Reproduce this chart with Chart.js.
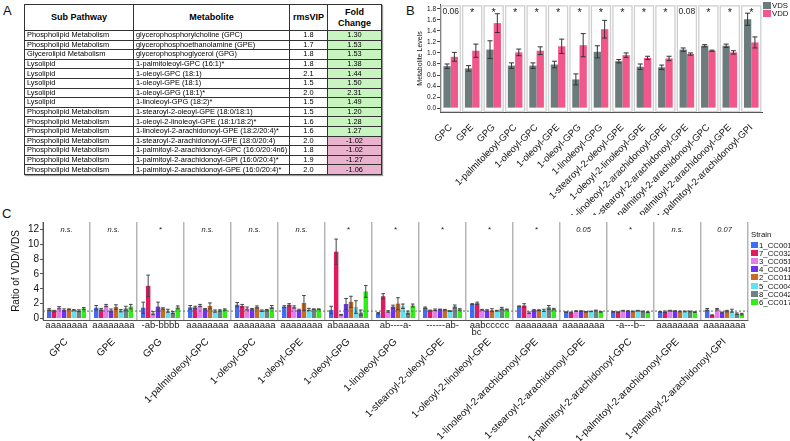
<!DOCTYPE html>
<html>
<head>
<meta charset="utf-8">
<script src="https://cdn.jsdelivr.net/npm/chart.js@4.4.1/dist/chart.umd.min.js"></script>
<style>
html, body { margin: 0; padding: 0; background: #fff; }
#page { position: relative; width: 790px; height: 441px; overflow: hidden; font-family: 'Liberation Sans', Arial, sans-serif; color: #111; }
.plabel { position: absolute; font-size: 13px; }
#tbl { position: absolute; left: 24px; top: 4px; width: 357px; border-collapse: collapse; table-layout: fixed; box-shadow: 1px 1px 1px #999; border: 1.5px solid #222; color: #000; }
#tbl th, #tbl td { border: 1px solid #333; padding: 0 2px; white-space: nowrap; overflow: hidden; }
#tbl th { height: 25px; font-size: 9px; font-weight: bold; text-align: center; line-height: 11px; }
#tbl td { height: 8.6px; font-size: 7.4px; line-height: 8px; }
#tbl td.num { text-align: center; }
#tbl span { display: inline-block; filter: grayscale(1); }
.leg { position: absolute; font-size: 7.8px; white-space: nowrap; line-height: 8px; }
.leg i { display: inline-block; vertical-align: top; margin-right: 1px; }
#cB { position: absolute; left: 400px; top: 0; }
#cC { position: absolute; left: 0; top: 215px; }
</style>
</head>
<body>
<div id="page">
  <div class="plabel" style="left:3px;top:3px">A</div>
  <div class="plabel" style="left:406px;top:3px">B</div>
  <div class="plabel" style="left:2px;top:206px">C</div>
  <table id="tbl">
    <colgroup><col style="width:109px"><col style="width:156px"><col style="width:38px"><col style="width:54px"></colgroup>
    <thead><tr><th>Sub Pathway</th><th>Metabolite</th><th>rmsVIP</th><th>Fold<br>Change</th></tr></thead>
    <tbody id="tbody"></tbody>
  </table>
  <canvas id="cB" width="390" height="215"></canvas>
  <canvas id="cC" width="790" height="226"></canvas>
  <div id="legB"></div>
  <div id="legC"></div>
</div>
<script>
// ---- panel A table
const subPathways = ['Phospholipid Metabolism', 'Phospholipid Metabolism', 'Glycerolipid Metabolism', 'Lysolipid', 'Lysolipid',
  'Lysolipid', 'Lysolipid', 'Lysolipid', 'Phospholipid Metabolism', 'Phospholipid Metabolism', 'Phospholipid Metabolism',
  'Phospholipid Metabolism', 'Phospholipid Metabolism', 'Phospholipid Metabolism', 'Phospholipid Metabolism']
const metabolites = ['glycerophosphorylcholine (GPC)', 'glycerophosphoethanolamine (GPE)', 'glycerophosphoglycerol (GPG)',
  '1-palmitoleoyl-GPC (16:1)*', '1-oleoyl-GPC (18:1)', '1-oleoyl-GPE (18:1)', '1-oleoyl-GPG (18:1)*', '1-linoleoyl-GPG (18:2)*',
  '1-stearoyl-2-oleoyl-GPE (18:0/18:1)', '1-oleoyl-2-linoleoyl-GPE (18:1/18:2)*', '1-linoleoyl-2-arachidonoyl-GPE (18:2/20:4)*',
  '1-stearoyl-2-arachidonoyl-GPE (18:0/20:4)', '1-palmitoyl-2-arachidonoyl-GPC (16:0/20:4n6)',
  '1-palmitoyl-2-arachidonoyl-GPI (16:0/20:4)*', '1-palmitoyl-2-arachidonoyl-GPE (16:0/20:4)*']
const rmsVIP = ['1.8', '1.7', '1.8', '1.8', '2.1', '1.5', '2.0', '1.5', '1.5', '1.6', '1.6', '2.0', '1.8', '1.9', '2.0']
const foldChange = ['1.30', '1.53', '1.53', '1.38', '1.44', '1.50', '2.31', '1.49', '1.20', '1.28', '1.27', '-1.02', '-1.02', '-1.27', '-1.06']

// ---- panel B
const bLabels = ['GPC', 'GPE', 'GPG', '1-palmitoleoyl-GPC', '1-oleoyl-GPC', '1-oleoyl-GPE', '1-oleoyl-GPG', '1-linoleoyl-GPG',
  '1-stearoyl-2-oleoyl-GPE', '1-oleoyl-2-linoleoyl-GPE', '1-linoleoyl-2-arachidonoyl-GPE', '1-stearoyl-2-arachidonoyl-GPE',
  '1-palmitoyl-2-arachidonoyl-GPC', '1-palmitoyl-2-arachidonoyl-GPE', '1-palmitoyl-2-arachidonoyl-GPI']
const vdsMean = [0.76, 0.72, 1.06, 0.77, 0.77, 0.79, 0.52, 1.02, 0.85, 0.75, 0.74, 1.06, 1.13, 1.13, 1.61]
const vdsErr = [0.04, 0.05, 0.16, 0.05, 0.05, 0.06, 0.10, 0.11, 0.03, 0.05, 0.04, 0.03, 0.02, 0.03, 0.11]
const vddMean = [0.93, 1.04, 1.54, 1.01, 1.04, 1.12, 1.14, 1.43, 0.96, 0.91, 0.90, 0.98, 1.04, 1.01, 1.19]
const vddErr = [0.08, 0.12, 0.17, 0.06, 0.07, 0.13, 0.21, 0.16, 0.04, 0.03, 0.04, 0.02, 0.01, 0.03, 0.10]
const bSig = ['0.06', '*', '*', '*', '*', '*', '*', '*', '*', '*', '*', '0.08', '*', '*', '*']
const bYTicks = [0, 0.2, 0.4, 0.6, 0.8, 1.0, 1.2, 1.4, 1.6, 1.8]

// ---- panel C
const cLabels = bLabels
const strains = ['1_CC001', '7_CC032', '3_CC051', '4_CC041', '2_CC011', '5_CC004', '8_CC042', '6_CC017']
const strainColors = ['#3d6ef5', '#e3195f', '#e080f0', '#6a33f2', '#c96b22', '#5de3f5', '#6e8282', '#30ee18']
const cc001 = [1.2, 1.45, 1.45, 1.5, 1.85, 1.6, 1.15, 0.72, 1.45, 1.95, 1.65, 0.86, 0.9, 0.9, 1.2]
const cc001Err = [0.12, 0.3, 0.75, 0.25, 0.3, 0.12, 0.5, 0.1, 0.1, 0.05, 0.05, 0.05, 0.05, 0.05, 0.15]
const cc032 = [1.0, 1.22, 4.4, 1.5, 1.7, 1.85, 9.0, 3.0, 1.08, 2.05, 1.75, 0.82, 0.86, 0.9, 0.45]
const cc032Err = [0.1, 0.15, 1.45, 0.15, 0.2, 0.15, 1.7, 0.35, 0.05, 0.15, 0.25, 0.05, 0.05, 0.1, 0.05]
const cc051 = [1.45, 1.75, 0.72, 1.75, 1.35, 1.55, 0.5, 0.95, 1.18, 1.18, 0.78, 1.0, 1.05, 1.05, 1.25]
const cc051Err = [0.15, 0.15, 0.2, 0.15, 0.2, 0.15, 0.05, 0.1, 0.1, 0.05, 0.1, 0.05, 0.05, 0.05, 0.1]
const cc041 = [1.15, 1.08, 1.6, 1.25, 1.25, 1.15, 1.95, 1.6, 1.22, 1.08, 1.1, 1.0, 1.0, 1.0, 0.82]
const cc041Err = [0.15, 0.2, 0.6, 0.1, 0.1, 0.1, 0.75, 0.2, 0.05, 0.1, 0.1, 0.05, 0.05, 0.05, 0.05]
const cc011 = [1.25, 1.55, 1.35, 1.7, 1.55, 2.1, 2.25, 2.0, 1.18, 1.12, 1.13, 0.9, 0.95, 0.95, 1.0]
const cc011Err = [0.05, 0.3, 0.1, 0.4, 0.15, 1.0, 0.75, 0.8, 0.05, 0.2, 0.05, 0.03, 0.05, 0.05, 0.1]
const cc004 = [1.12, 1.05, 1.05, 1.0, 1.05, 1.22, 1.55, 1.65, 1.0, 1.05, 1.1, 0.95, 1.05, 0.95, 1.05]
const cc004Err = [0.08, 0.15, 0.2, 0.15, 0.1, 0.15, 0.85, 0.3, 0.05, 0.05, 0.15, 0.03, 0.05, 0.05, 0.2]
const cc042 = [1.05, 1.35, 0.8, 1.08, 1.12, 1.25, 0.8, 0.8, 1.62, 1.35, 1.5, 1.08, 0.95, 0.95, 0.65]
const cc042Err = [0.12, 0.3, 0.15, 0.1, 0.1, 0.05, 0.35, 0.2, 0.2, 0.15, 0.25, 0.05, 0.05, 0.05, 0.1]
const cc017 = [1.35, 1.6, 1.5, 1.2, 1.55, 1.25, 3.65, 1.75, 1.22, 1.22, 1.27, 0.9, 0.86, 0.86, 0.6]
const cc017Err = [0.12, 0.3, 0.2, 0.1, 0.2, 0.05, 0.8, 0.2, 0.1, 0.05, 0.1, 0.05, 0.05, 0.05, 0.1]
const cSig = ['n.s.', 'n.s.', '*', 'n.s.', 'n.s.', 'n.s.', '*', '*', '*', '*', '*', '0.05', '*', 'n.s.', '0.07']
const cLetters = ['aaaaaaaa', 'aaaaaaaa', '-ab-bbbb', 'aaaaaaaa', 'aaaaaaaa', 'aaaaaaaa', 'abaaaaaa', 'ab----a-',
  '------ab-', 'aabccccc\nbc', 'aaaaaaaa', 'aaaaaaaa', '-a---b--', 'aaaaaaaa', 'aaaaaaaa']
const cYTicks = [0, 2, 4, 6, 8, 10, 12]

const FONT = "'Liberation Sans', Arial, sans-serif"
Chart.defaults.font.family = FONT
Chart.defaults.color = '#111'

// table rows
const tbody = document.getElementById('tbody')
subPathways.forEach((sp, i) => {
  const tr = document.createElement('tr')
  const fcColor = foldChange[i].startsWith('-') ? '#e9b3cd' : '#c8f4c0'
  tr.innerHTML = '<td><span>' + sp + '</span></td><td><span>' + metabolites[i] + '</span></td><td class="num"><span>' + rmsVIP[i] +
    '</span></td><td class="num" style="background:' + fcColor + '"><span>' + foldChange[i] + '</span></td>'
  tbody.appendChild(tr)
})

// legends
function buildLegend(el, left, top, title, names, colors, step, box) {
  let html = ''
  let y = top
  if (title) {
    html += '<div class="leg" style="left:' + left + 'px;top:' + y + 'px">' + title + '</div>'
    y += 11
  }
  names.forEach((n, i) => {
    html += '<div class="leg" style="left:' + left + 'px;top:' + (y + i * step) + 'px"><i style="width:' + box[0] +
      'px;height:' + box[1] + 'px;background:' + colors[i] + '"></i>' + n + '</div>'
  })
  el.innerHTML = html
}
buildLegend(document.getElementById('legB'), 763, 2, null, ['VDS', 'VDD'], ['#6c7c7d', '#f2578b'], 8, [8, 7])
buildLegend(document.getElementById('legC'), 751, 231, 'Strain', strains, strainColors, 8.1, [7, 6])

// plugins
const errorBars = {
  id: 'errorBars',
  afterDatasetsDraw(chart, args, o) {
    const { ctx } = chart
    const y = chart.scales.y
    chart.data.datasets.forEach((ds, i) => {
      chart.getDatasetMeta(i).data.forEach((bar, j) => {
        const m = ds.data[j]
        const e = ds.errors[j]
        const top = y.getPixelForValue(m + e)
        const bot = y.getPixelForValue(m - e)
        ctx.save()
        ctx.strokeStyle = o.color
        ctx.lineWidth = o.width
        ctx.beginPath()
        ctx.moveTo(bar.x, top); ctx.lineTo(bar.x, bot)
        ctx.moveTo(bar.x - o.cap, top); ctx.lineTo(bar.x + o.cap, top)
        ctx.moveTo(bar.x - o.cap, bot); ctx.lineTo(bar.x + o.cap, bot)
        ctx.stroke()
        ctx.restore()
      })
    })
  }
}

const topNotes = {
  id: 'topNotes',
  afterDatasetsDraw(chart, args, o) {
    const { ctx, chartArea } = chart
    const x = chart.scales.x
    ctx.save()
    ctx.fillStyle = '#222'
    ctx.textAlign = 'center'
    ctx.textBaseline = 'top'
    o.texts.forEach((t, i) => {
      const star = t === '*'
      ctx.font = star ? o.starFont : o.font
      ctx.fillText(t, x.getPixelForValue(i), chartArea.top + (star ? o.starDy : o.dy))
    })
    ctx.restore()
  }
}

const catBoxes = {
  id: 'catBoxes',
  beforeDatasetsDraw(chart) {
    const { ctx, chartArea } = chart
    const x = chart.scales.x
    const band = chartArea.width / chart.data.labels.length
    ctx.save()
    ctx.strokeStyle = '#cfcfcf'
    ctx.lineWidth = 1.3
    chart.data.labels.forEach((l, i) => {
      const cx = x.getPixelForValue(i)
      ctx.strokeRect(cx - band / 2 + 1.2, chartArea.top + 1, band - 2.4, chartArea.height - 1.5)
    })
    ctx.restore()
  }
}

const refLine = {
  id: 'refLine',
  afterDatasetsDraw(chart) {
    const { ctx, chartArea } = chart
    const py = chart.scales.y.getPixelForValue(1)
    ctx.save()
    ctx.strokeStyle = '#666'
    ctx.lineWidth = 1
    ctx.setLineDash([2, 2])
    ctx.beginPath()
    ctx.moveTo(chartArea.left, py); ctx.lineTo(chartArea.right, py)
    ctx.stroke()
    ctx.restore()
  }
}

const groupLetters = {
  id: 'groupLetters',
  afterDraw(chart, args, o) {
    const { ctx, chartArea } = chart
    const x = chart.scales.x
    ctx.save()
    ctx.fillStyle = '#222'
    ctx.font = '9.5px ' + FONT
    ctx.textAlign = 'center'
    ctx.textBaseline = 'top'
    o.texts.forEach((t, i) => {
      const lines = t.split('\n')
      const cx = x.getPixelForValue(i)
      ctx.fillText(lines[0], cx, chartArea.bottom + 1)
      if (lines[1]) ctx.fillText(lines[1], cx - 13, chartArea.bottom + 8)
    })
    ctx.restore()
  }
}

// panel B chart
new Chart(document.getElementById('cB'), {
  type: 'bar',
  data: {
    labels: bLabels,
    datasets: [
      { label: 'VDS', data: vdsMean, errors: vdsErr, backgroundColor: '#6c7c7d' },
      { label: 'VDD', data: vddMean, errors: vddErr, backgroundColor: '#f2578b' }
    ]
  },
  options: {
    responsive: false,
    animation: false,
    layout: { padding: { top: 3, right: 28, left: 0, bottom: 0 } },
    datasets: { bar: { categoryPercentage: 0.68, barPercentage: 1 } },
    plugins: {
      legend: { display: false },
      tooltip: { enabled: false },
      errorBars: { color: '#333', width: 1, cap: 2.5 },
      topNotes: { texts: bSig, font: '8.5px ' + FONT, starFont: '11px ' + FONT, dy: 3, starDy: 3 }
    },
    scales: {
      x: {
        grid: { display: false },
        border: { color: '#444', width: 1 },
        ticks: { autoSkip: false, minRotation: 45, maxRotation: 45, padding: 2, font: { size: 9.5 }, color: '#111' },
        afterFit: s => { s.height = 103 }
      },
      y: {
        min: -0.07,
        max: 1.87,
        afterBuildTicks: s => {
          const t = []
          bYTicks.forEach(v => { t.push({ value: v }); if (v < 1.8) t.push({ value: +(v + 0.1).toFixed(1) }) })
          s.ticks = t
        },
        ticks: {
          font: { size: 6.5 },
          padding: 1,
          callback: v => bYTicks.some(b => Math.abs(b - v) < 1e-6) ? v.toFixed(1) : ''
        },
        grid: { drawOnChartArea: false, tickLength: 3, color: '#444' },
        border: { color: '#444', width: 1 },
        title: { display: true, text: 'Metabolite Levels', font: { size: 7 }, padding: { top: 16, bottom: 16 } },
        afterFit: s => { s.width = 40 }
      }
    }
  },
  plugins: [catBoxes, errorBars, topNotes]
})

// panel C chart
const cMeans = [cc001, cc032, cc051, cc041, cc011, cc004, cc042, cc017]
const cErrs = [cc001Err, cc032Err, cc051Err, cc041Err, cc011Err, cc004Err, cc042Err, cc017Err]
new Chart(document.getElementById('cC'), {
  type: 'bar',
  data: {
    labels: cLabels,
    datasets: strains.map((s, i) => ({ label: s, data: cMeans[i], errors: cErrs[i], backgroundColor: strainColors[i] }))
  },
  options: {
    responsive: false,
    animation: false,
    layout: { padding: { top: 4, right: 42, left: 0, bottom: 0 } },
    datasets: { bar: { categoryPercentage: 0.84, barPercentage: 0.9 } },
    plugins: {
      legend: { display: false },
      tooltip: { enabled: false },
      errorBars: { color: '#444', width: 1, cap: 1.8 },
      topNotes: { texts: cSig, font: 'italic 7.5px ' + FONT, starFont: '8px ' + FONT, dy: 4, starDy: 4 },
      groupLetters: { texts: cLetters }
    },
    scales: {
      x: {
        grid: { offset: true, drawTicks: false, color: '#b5b5b5', lineWidth: 1.5 },
        border: { color: '#555', width: 1 },
        ticks: { autoSkip: false, minRotation: 45, maxRotation: 45, padding: 16, font: { size: 10 }, color: '#111' },
        afterFit: s => { s.height = 121 }
      },
      y: {
        min: -0.2,
        max: 13,
        afterBuildTicks: s => {
          const t = []
          for (let v = 0; v <= 12; v++) t.push({ value: v })
          s.ticks = t
        },
        ticks: {
          font: { size: 10 },
          padding: 1,
          callback: v => cYTicks.includes(v) ? String(v) : ''
        },
        grid: { drawOnChartArea: false, tickLength: 3, color: '#555' },
        border: { color: '#555', width: 1 },
        title: { display: true, text: 'Ratio of VDD/VDS', font: { size: 10 }, padding: { top: 10, bottom: 10 } },
        afterFit: s => { s.width = 43 }
      }
    }
  },
  plugins: [refLine, errorBars, topNotes, groupLetters]
})
</script>
</body>
</html>
